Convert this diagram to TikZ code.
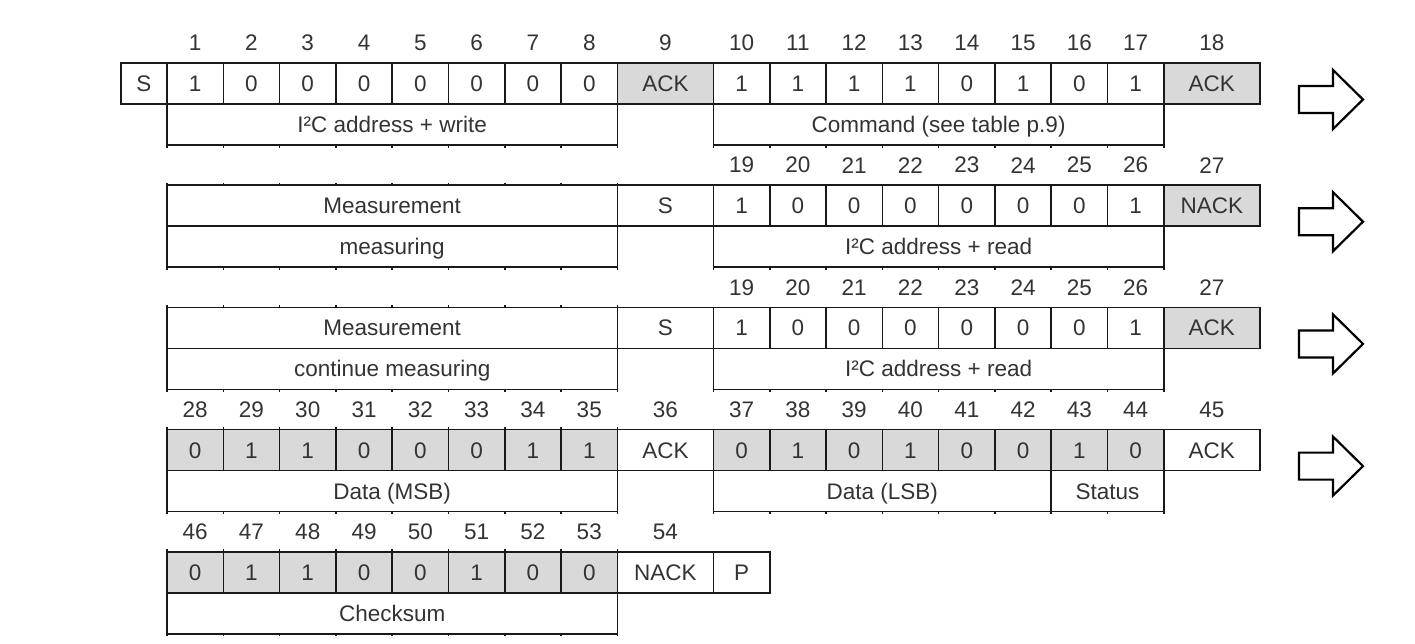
\documentclass[tikz,border=0pt]{standalone}
\usepackage{fontspec}
\setmainfont{Liberation Sans}
\definecolor{bitgray}{HTML}{D9D9D9}
\definecolor{textgray}{HTML}{333333}
\tikzset{
  cell/.style={draw=black!90, line width=1.6pt, inner sep=0pt, minimum height=41pt,
    text=textgray, font=\fontsize{22.5}{26}\selectfont, text height=19.8pt, text depth=4pt},
  bitcell/.style={cell, minimum width=56.3pt},
  ackcell/.style={cell, minimum width=96pt},
  bytecell/.style={cell, minimum width=450.4pt},
  greycell/.style={fill=bitgray},
  bitnum/.style={inner sep=0pt, text=textgray, font=\fontsize{22.5}{26}\selectfont},
  bittick/.style={draw=black!90, line width=1.6pt},
  bigarrow/.style={draw=black, line width=2.2pt, fill=white, line join=miter}
}
% a group of eight bits: left x, centre y, extra style, bits, name prefix
\newcommand{\bitsat}[5]{%
  \foreach \b [count=\i] in {#4}
    \node[bitcell,#3] (#5\i) at ({#1+(\i-0.5)*56.3},#2) {\b};}
% eight bit numbers: left x, y, first number, name prefix
\newcommand{\numsat}[4]{%
  \foreach \i in {1,...,8}{
    \pgfmathtruncatemacro{\n}{#3+\i-1}
    \node[bitnum] (#4\i) at ({#1+(\i-0.5)*56.3},#2) {\n};}}
% small ticks on the bit borders: left x, y, length
\newcommand{\ticksat}[3]{%
  \foreach \i in {0,...,8}
    \draw[bittick] ({#1+\i*56.3},#2) -- ++(0,#3);}

\begin{document}
\begin{tikzpicture}[x=1pt,y=-1pt]
\useasboundingbox (0,0) rectangle (1415,643);

% address + write, command
\numsat{167}{43}{1}{na}
\node[bitnum] (n9) at (665.4,43) {9};
\numsat{713.4}{43}{10}{nb}
\node[bitnum] (n18) at (1211.8,43) {18};
\node[cell, minimum width=46pt] (s1) at (144,83.5) {S};
\bitsat{167}{83.5}{}{1,0,0,0,0,0,0,0}{a}
\node[ackcell, greycell] (ack1) at (665.4,83.5) {ACK};
\bitsat{713.4}{83.5}{}{1,1,1,1,0,1,0,1}{b}
\node[ackcell, greycell] (ack2) at (1211.8,83.5) {ACK};
\node[bytecell] (addrw) at (392.2,124.5) {I²C address + write};
\node[bytecell] (cmd) at (938.6,124.5) {Command (see table p.9)};
\ticksat{167}{145}{2.5}
\ticksat{713.4}{145}{2.5}

% measuring, address + read
\numsat{713.4}{165.2}{19}{nc}
\node[bitnum] (n27a) at (1211.8,165.2) {27};
\node[bytecell] (meas1) at (392.2,205.7) {Measurement};
\node[ackcell] (s2) at (665.4,205.7) {S};
\bitsat{713.4}{205.7}{}{1,0,0,0,0,0,0,1}{c}
\node[ackcell, greycell] (nack1) at (1211.8,205.7) {NACK};
\node[bytecell] (measing) at (392.2,246.7) {measuring};
\node[bytecell] (addrr1) at (938.6,246.7) {I²C address + read};
\ticksat{167}{185.2}{-2.5}
\ticksat{167}{267.2}{2.5}
\ticksat{713.4}{267.2}{2.5}

% continue measuring, address + read
\numsat{713.4}{287.4}{19}{nd}
\node[bitnum] (n27b) at (1211.8,287.4) {27};
\node[bytecell] (meas2) at (392.2,327.9) {Measurement};
\node[ackcell] (s3) at (665.4,327.9) {S};
\bitsat{713.4}{327.9}{}{1,0,0,0,0,0,0,1}{d}
\node[ackcell, greycell] (ack3) at (1211.8,327.9) {ACK};
\node[bytecell] (contmeas) at (392.2,368.9) {continue measuring};
\node[bytecell] (addrr2) at (938.6,368.9) {I²C address + read};
\ticksat{167}{307.4}{-2.5}
\ticksat{167}{389.4}{2.5}
\ticksat{713.4}{389.4}{2.5}

% data
\numsat{167}{409.6}{28}{ne}
\node[bitnum] (n36) at (665.4,409.6) {36};
\numsat{713.4}{409.6}{37}{nf}
\node[bitnum] (n45) at (1211.8,409.6) {45};
\bitsat{167}{450.1}{greycell}{0,1,1,0,0,0,1,1}{e}
\node[ackcell] (ack4) at (665.4,450.1) {ACK};
\bitsat{713.4}{450.1}{greycell}{0,1,0,1,0,0,1,0}{f}
\node[ackcell] (ack5) at (1211.8,450.1) {ACK};
\node[bytecell] (msb) at (392.2,491.1) {Data (MSB)};
\node[cell, minimum width=337.8pt] (lsb) at (882.3,491.1) {Data (LSB)};
\node[cell, minimum width=112.6pt] (status) at (1107.5,491.1) {Status};
\ticksat{167}{429.6}{-2.5}
\ticksat{167}{511.6}{2.5}
\ticksat{713.4}{511.6}{2.5}

% checksum
\numsat{167}{531.8}{46}{ng}
\node[bitnum] (n54) at (665.4,531.8) {54};
\bitsat{167}{572.3}{greycell}{0,1,1,0,0,1,0,0}{g}
\node[ackcell] (nack2) at (665.4,572.3) {NACK};
\node[bitcell] (stop) at (741.55,572.3) {P};
\node[bytecell] (chk) at (392.2,613.3) {Checksum};
\ticksat{167}{551.8}{-2.5}
\ticksat{167}{633.8}{2.5}

% continuation arrows
\foreach \t in {63,185.2,307.4,429.6}
  \draw[bigarrow] (1299,\t+23) -- (1333,\t+23) -- (1333,\t+7) -- (1363,\t+36.5)
    -- (1333,\t+66) -- (1333,\t+50) -- (1299,\t+50) -- cycle;
\end{tikzpicture}
\end{document}
